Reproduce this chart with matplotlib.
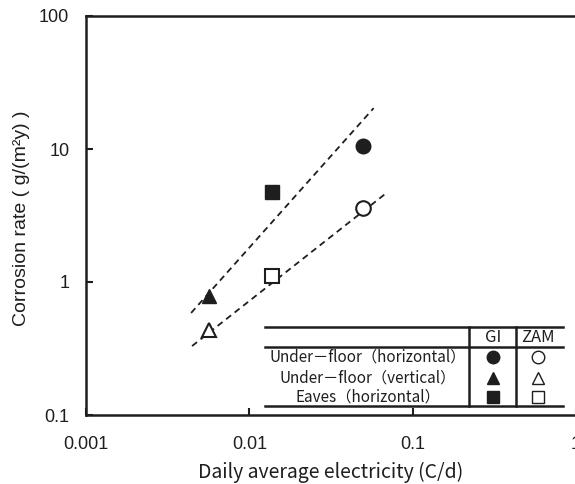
import matplotlib
matplotlib.use("Agg")
import matplotlib.pyplot as plt
from matplotlib.lines import Line2D

# === Data ===
# Daily average electricity (C/d) and corrosion rate g/(m2 y)
gi_x = [0.050, 0.0057, 0.0138]
gi_y = [10.5, 0.79, 4.75]
zam_x = [0.050, 0.0057, 0.0138]
zam_y = [3.6, 0.436, 1.11]
markers = ["o", "^", "s"]
row_labels = ["Under－floor（horizontal）", "Under－floor（vertical）", "Eaves（horizontal）"]
col_labels = ["GI", "ZAM"]

# dashed trend lines (end points)
fit_gi_x = [0.0044, 0.0577]
fit_gi_y = [0.585, 20.3]
fit_zam_x = [0.00446, 0.0703]
fit_zam_y = [0.330, 4.75]

x_ticks = [0.001, 0.01, 0.1, 1]
x_ticklabels = ["0.001", "0.01", "0.1", "1"]
y_ticks = [0.1, 1, 10, 100]
y_ticklabels = ["0.1", "1", "10", "100"]

INK = "#1e1e1e"
W, H = 575, 484
JP = ["Noto Sans CJK JP", "DejaVu Sans"]
plt.rcParams["font.family"] = ["Liberation Sans", "Noto Sans CJK JP", "DejaVu Sans"]


def px(x, y):
    # pixel position -> figure fraction
    return x / W, 1 - y / H


fig = plt.figure(figsize=(W / 100, H / 100), dpi=100)
ax = fig.add_axes([86 / W, (H - 415) / H, (576 - 86) / W, (415 - 16) / H])
ax.set_xscale("log")
ax.set_yscale("log")
ax.set_xlim(0.001, 1)
ax.set_ylim(0.1, 100)

ax.plot(fit_gi_x, fit_gi_y, color=INK, lw=1.3, ls=(0, (3.5, 2.5)))
ax.plot(fit_zam_x, fit_zam_y, color=INK, lw=1.3, ls=(0, (3.5, 2.5)))

sizes = {"o": 10.5, "^": 10.5, "s": 9.5}
for xv, yv, m in zip(gi_x, gi_y, markers):
    ax.plot([xv], [yv], marker=m, ms=sizes[m], color=INK, mec=INK, ls="none")
for xv, yv, m in zip(zam_x, zam_y, markers):
    ax.plot([xv], [yv], marker=m, ms=sizes[m], mfc="white", mec=INK, mew=1.5, ls="none")

for side in ["left", "top", "bottom"]:
    ax.spines[side].set_linewidth(1.8)
    ax.spines[side].set_color(INK)
ax.spines["right"].set_visible(False)

ax.set_xticks(x_ticks)
ax.set_xticklabels(x_ticklabels)
ax.set_yticks(y_ticks)
ax.set_yticklabels(y_ticklabels)
ax.minorticks_off()
ax.tick_params(direction="in", length=5, width=1.5, color=INK, labelsize=13,
               labelcolor=INK, top=False, right=False)
ax.tick_params(axis="x", pad=15)
ax.tick_params(axis="y", pad=12)

fig.text(*px(331, 472), "Daily average electricity (C/d)", ha="center", va="center",
         fontsize=14, family=JP, color=INK)
fig.text(*px(22, 218), "Corrosion rate ( g/(m²y) )", ha="center", va="center",
         rotation=90, fontsize=14, color=INK)

# === table-like legend ===
tbl_lw = 1.8
for yy in [327, 347, 406]:
    x0, y0 = px(265, yy)
    x1, _ = px(563, yy)
    fig.add_artist(Line2D([x0, x1], [y0, y0], color=INK, lw=tbl_lw))
for xx in [469, 516]:
    x0, y0 = px(xx, 327)
    _, y1 = px(xx, 406)
    fig.add_artist(Line2D([x0, x0], [y0, y1], color=INK, lw=tbl_lw))

col_x = [493, 538]
for cx, lab in zip(col_x, col_labels):
    fig.text(*px(cx, 338), lab, ha="center", va="center", fontsize=12,
             family=JP, color=INK)

row_y = [357, 378, 397]
for ry, lab, m in zip(row_y, row_labels, markers):
    fig.text(*px(368, ry), lab, ha="center", va="center", fontsize=11,
             family=JP, color=INK)
    s = {"o": 9, "^": 8.5, "s": 8}[m]
    gx, gy = px(col_x[0], ry)
    fig.add_artist(Line2D([gx], [gy], marker=m, ms=s, color=INK, ls="none"))
    zx, zy = px(col_x[1], ry)
    fig.add_artist(Line2D([zx], [zy], marker=m, ms=s, mfc="white", mec=INK,
                          mew=1.0, ls="none"))

fig.savefig("out.png", dpi=100)
